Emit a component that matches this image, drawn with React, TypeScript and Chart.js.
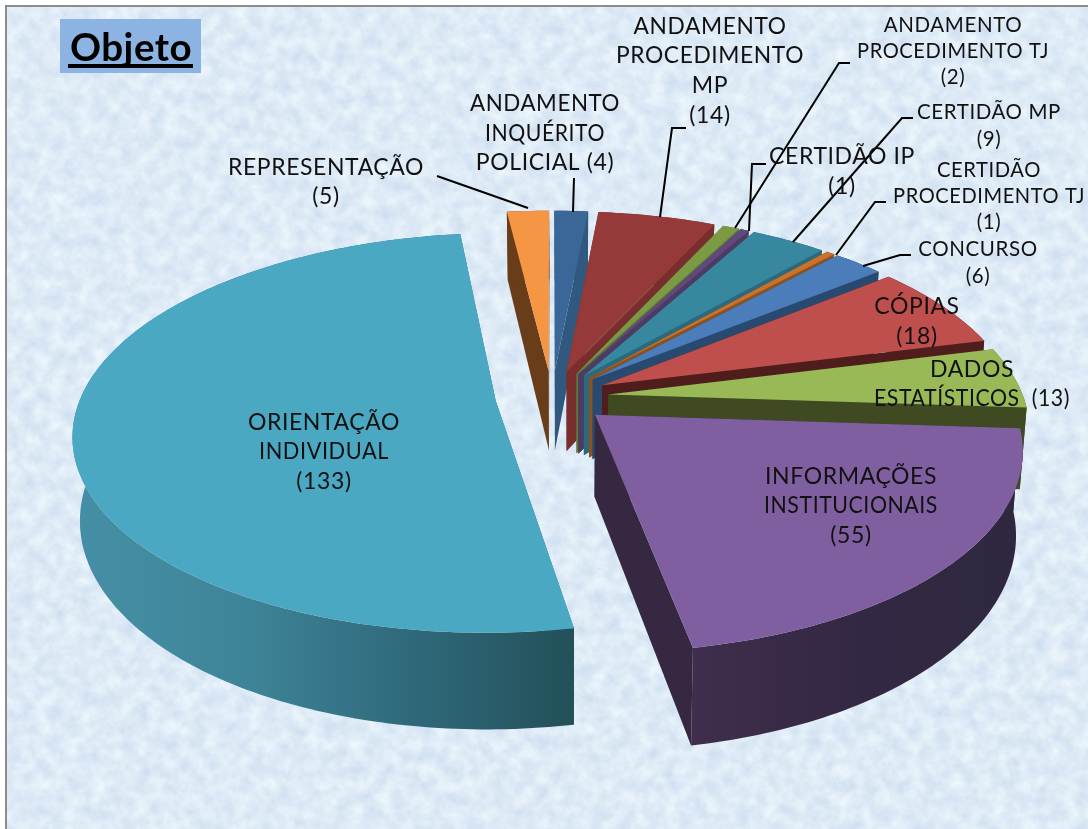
import React, { useEffect, useRef } from "react";
import { Chart, registerables } from "chart.js";

Chart.register(...registerables);

const categories = [
  "ANDAMENTO INQUÉRITO POLICIAL",
  "ANDAMENTO PROCEDIMENTO MP",
  "ANDAMENTO PROCEDIMENTO TJ",
  "CERTIDÃO IP",
  "CERTIDÃO MP",
  "CERTIDÃO PROCEDIMENTO TJ",
  "CONCURSO",
  "CÓPIAS",
  "DADOS ESTATÍSTICOS",
  "INFORMAÇÕES INSTITUCIONAIS",
  "ORIENTAÇÃO INDIVIDUAL",
  "REPRESENTAÇÃO",
];
const values = [4, 14, 2, 1, 9, 1, 6, 18, 13, 55, 133, 5];

const topColors = ["#3B6798", "#953A38", "#7C9A44", "#5F4A7B", "#37879F", "#C8722C", "#4A7DBA", "#BE4F4C", "#98B956", "#7F5F9F", "#4BA8C3", "#F59644"];
const wallColors = ["#31587F", "#772E2C", "#5F7A36", "#4D3B63", "#2A6A7C", "#8F5020", "#284A70", "#4F1E1C", "#3F4A22", "#352840", "#30707F", "#693D19"];
const rimStops: (string[] | null)[] = [null, null, null, null, null, null, null, null, null, ["#3F2E4D", "#332843", "#2F2740"], ["#458FA6", "#3F8599", "#2F6A7B", "#235059"], null];

const EXPLODE = 53;
const VIEW = { x0: 552, y0: 397, rx: 415, ry: 193.5, persp: 0.159, depth: 81, bottomCx: 570, bottomScale: 0.985 };

type Lbl = { lines: string[]; cx: number; ys: number[]; size: number; fit?: (number | undefined)[] };
const labels: Lbl[] = [
  { lines: ["ANDAMENTO", "INQUÉRITO", "POLICIAL ({v})"], cx: 545, ys: [104, 134, 163], size: 23, fit: [150, 120, 140] },
  { lines: ["ANDAMENTO", "PROCEDIMENTO", "MP", "({v})"], cx: 710, ys: [27, 56, 86, 116], size: 23, fit: [153, 188] },
  { lines: ["ANDAMENTO", "PROCEDIMENTO TJ", "({v})"], cx: 953, ys: [25, 51, 77], size: 20.5, fit: [139, 192] },
  { lines: ["CERTIDÃO IP", "({v})"], cx: 842, ys: [157, 187], size: 23, fit: [147] },
  { lines: ["CERTIDÃO MP", "({v})"], cx: 989, ys: [112, 139], size: 20.5, fit: [145] },
  { lines: ["CERTIDÃO", "PROCEDIMENTO TJ", "({v})"], cx: 989, ys: [170, 196, 222], size: 20.5, fit: [104, 192] },
  { lines: ["CONCURSO", "({v})"], cx: 978, ys: [249, 276], size: 20.5, fit: [124] },
  { lines: ["CÓPIAS", "({v})"], cx: 917, ys: [307, 337], size: 23, fit: [87] },
  { lines: ["DADOS", "ESTATÍSTICOS  ({v})"], cx: 972, ys: [370, 399], size: 23, fit: [84, 196] },
  { lines: ["INFORMAÇÕES", "INSTITUCIONAIS", "({v})"], cx: 851, ys: [477, 506, 536], size: 23, fit: [174, 174] },
  { lines: ["ORIENTAÇÃO", "INDIVIDUAL", "({v})"], cx: 324, ys: [423, 452, 482], size: 23, fit: [154, 130] },
  { lines: ["REPRESENTAÇÃO", "({v})"], cx: 326, ys: [168, 197], size: 23, fit: [196] },
];

const leaders: number[][] = [
  [574, 178, 573, 212],
  [686, 128, 672, 128, 660, 217],
  [850, 63, 839, 63, 735, 228],
  [766, 164, 752, 164, 749, 231],
  [913, 118, 902, 118, 793, 242],
  [886, 202, 875, 202, 836, 255],
  [911, 255, 900, 255, 863, 266],
  [],
  [],
  [],
  [],
  [437, 176, 528, 208],
];

const FONT = 'Lato, "Noto Sans", sans-serif';

function project(u: number, v: number) {
  const k = 1 / (1 - VIEW.persp * v);
  const x = VIEW.x0 + u * VIEW.rx * k;
  const y = VIEW.y0 + v * VIEW.ry * k;
  return {
    x,
    y,
    bx: VIEW.bottomCx + (x - VIEW.bottomCx) * VIEW.bottomScale,
    b: y + VIEW.depth * k,
  };
}

const pie3d = {
  id: "pie3d",
  beforeDatasetsDraw(chart: any) {
    const ctx: CanvasRenderingContext2D = chart.ctx;
    const arcs = chart.getDatasetMeta(0).data as any[];
    const order = arcs
      .map((a, i) => ({ a, i, mid: (a.startAngle + a.endAngle) / 2 }))
      .sort((p, q) => Math.sin(p.mid) - Math.sin(q.mid));
    for (const { a, i, mid } of order) {
      const d = a.options.offset / a.outerRadius;
      const ou = Math.cos(mid) * d;
      const ov = Math.sin(mid) * d;
      const apex = project(ou, ov);
      const rim: ReturnType<typeof project>[] = [];
      const n = Math.max(2, Math.ceil(((a.endAngle - a.startAngle) * 180) / Math.PI));
      for (let s = 0; s <= n; s++) {
        const t = a.startAngle + ((a.endAngle - a.startAngle) * s) / n;
        rim.push(project(ou + Math.cos(t), ov + Math.sin(t)));
      }
      const first = rim[0];
      const last = rim[rim.length - 1];
      // radial walls
      ctx.fillStyle = wallColors[i];
      for (const e of [first, last]) {
        ctx.beginPath();
        ctx.moveTo(apex.x, apex.y);
        ctx.lineTo(e.x, e.y);
        ctx.lineTo(e.bx, e.b);
        ctx.lineTo(apex.bx, apex.b);
        ctx.closePath();
        ctx.fill();
      }
      // outer wall
      const xs = rim.map((p) => p.x);
      const minX = Math.min(...xs);
      const maxX = Math.max(...xs);
      const stops = rimStops[i];
      if (stops) {
        const g = ctx.createLinearGradient(minX, 0, maxX, 0);
        stops.forEach((c, k) => g.addColorStop(k / (stops.length - 1), c));
        ctx.fillStyle = g;
      }
      ctx.beginPath();
      rim.forEach((p, k) => (k ? ctx.lineTo(p.x, p.y) : ctx.moveTo(p.x, p.y)));
      for (let k = rim.length - 1; k >= 0; k--) ctx.lineTo(rim[k].bx, rim[k].b);
      ctx.closePath();
      ctx.fill();
      // top face
      ctx.fillStyle = topColors[i];
      ctx.beginPath();
      ctx.moveTo(apex.x, apex.y);
      rim.forEach((p) => ctx.lineTo(p.x, p.y));
      ctx.closePath();
      ctx.fill();
    }
    return false;
  },
  afterDraw(chart: any) {
    const ctx: CanvasRenderingContext2D = chart.ctx;
    ctx.save();
    ctx.strokeStyle = "#000";
    ctx.lineWidth = 2;
    for (const pts of leaders) {
      if (!pts.length) continue;
      ctx.beginPath();
      ctx.moveTo(pts[0], pts[1]);
      for (let k = 2; k < pts.length; k += 2) ctx.lineTo(pts[k], pts[k + 1]);
      ctx.stroke();
    }
    ctx.fillStyle = "#111";
    ctx.textAlign = "center";
    ctx.textBaseline = "middle";
    labels.forEach((l, i) => {
      ctx.font = `${l.size}px ${FONT}`;
      (ctx as any).letterSpacing = "0.6px";
      l.lines.forEach((t, k) => {
        const text = t.replace("{v}", String(values[i]));
        const w = l.fit && l.fit[k];
        if (w) ctx.fillText(text, l.cx, l.ys[k], w);
        else ctx.fillText(text, l.cx, l.ys[k]);
      });
    });
    // title box
    (ctx as any).letterSpacing = "0.5px";
    ctx.fillStyle = "#8DB3E2";
    ctx.fillRect(60, 19, 141, 54);
    ctx.fillStyle = "#000";
    ctx.font = `bold 39px ${FONT}`;
    ctx.textAlign = "left";
    ctx.textBaseline = "alphabetic";
    ctx.fillText("Objeto", 70, 61, 122);
    ctx.fillRect(68, 64, 125, 4);
    ctx.restore();
  },
};

const noise =
  "data:image/svg+xml;utf8," +
  encodeURIComponent(
    `<svg xmlns='http://www.w3.org/2000/svg' width='1088' height='829'><filter id='n' color-interpolation-filters='sRGB' x='0' y='0' width='100%' height='100%'><feTurbulence type='fractalNoise' baseFrequency='0.07' numOctaves='4' seed='7'/><feColorMatrix values='0.16 0 0 0 0.79  0.13 0 0 0 0.855  0.06 0 0 0 0.935  0 0 0 0 1'/></filter><rect width='1088' height='829' filter='url(#n)'/></svg>`
  );

export default function App() {
  const ref = useRef<HTMLCanvasElement>(null);
  useEffect(() => {
    document.body.style.margin = "0";
    document.documentElement.style.overflow = "hidden";
    const chart = new Chart(ref.current as HTMLCanvasElement, {
      type: "pie",
      data: {
        labels: categories,
        datasets: [{ data: values, backgroundColor: topColors, borderWidth: 0, offset: EXPLODE, hoverOffset: 0 }],
      },
      options: {
        responsive: false,
        animation: false,
        events: [],
        plugins: { legend: { display: false }, tooltip: { enabled: false } },
      },
      plugins: [pie3d],
    } as any);
    return () => chart.destroy();
  }, []);
  return (
    <div style={{ position: "absolute", left: 0, top: 0, width: 1088, height: 829, background: "#fff", overflow: "hidden" }}>
      <div
        style={{
          position: "absolute",
          left: 5,
          top: 5,
          width: 1083,
          height: 824,
          boxSizing: "border-box",
          borderLeft: "2px solid #8c8c8c",
          borderTop: "2px solid #8c8c8c",
          backgroundImage: `url("${noise}")`,
        }}
      />
      <canvas ref={ref} width={1088} height={829} style={{ position: "absolute", left: 0, top: 0, width: 1088, height: 829 }} />
    </div>
  );
}
